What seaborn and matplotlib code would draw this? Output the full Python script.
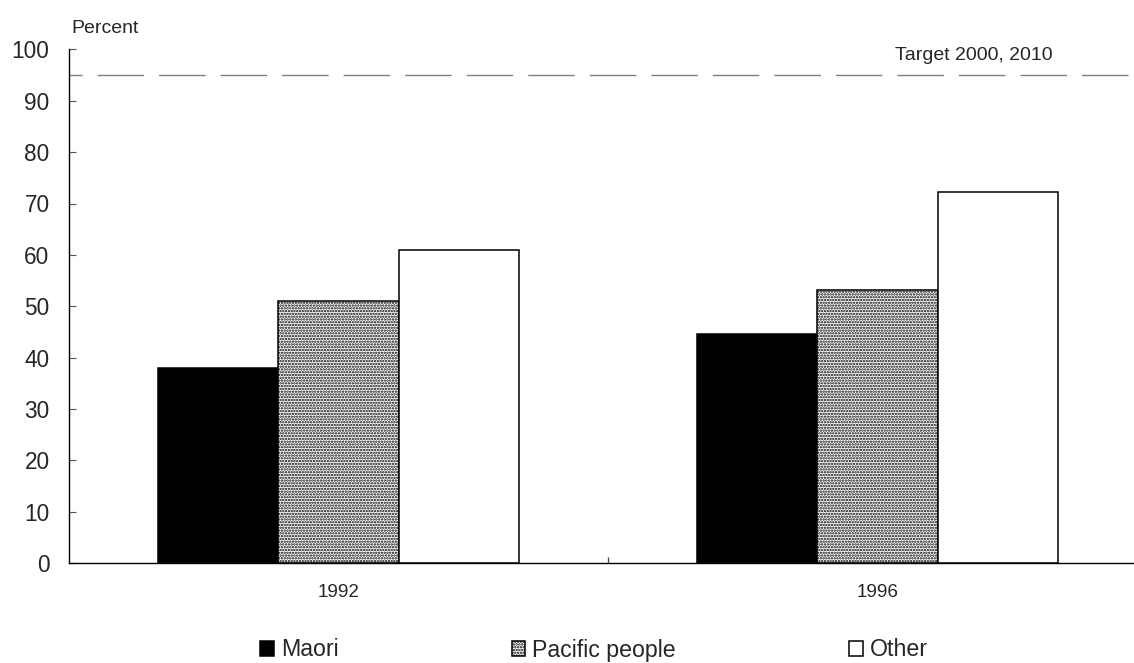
import matplotlib
matplotlib.use("Agg")
import matplotlib.pyplot as plt
import pandas as pd
import seaborn as sns

# Percent by year and group
years = ["1992", "1996"]
groups = ["Maori", "Pacific people", "Other"]
maori = [38.0, 44.6]
pacific = [51.0, 53.2]
other = [61.0, 72.3]
target = 95.0
target_label = "Target 2000, 2010"
y_ticks = list(range(0, 101, 10))

df = pd.DataFrame({
    "year": years * 3,
    "group": [g for g in groups for _ in years],
    "pct": maori + pacific + other,
})

sns.set_style("white")
plt.rcParams["font.family"] = ["Liberation Sans", "DejaVu Sans"]
plt.rcParams["hatch.linewidth"] = 1.15
plt.rcParams["hatch.color"] = "#1a1a1a"

W, H = 1134, 663
fig = plt.figure(figsize=(W / 100, H / 100), dpi=100)
ax = fig.add_axes([69 / W, (H - 563.3) / H, 1078 / W, 514 / H])

sns.barplot(
    data=df, x="year", y="pct", hue="group", order=years, hue_order=groups,
    palette=["black", "white", "white"], width=0.668, gap=0,
    edgecolor="black", linewidth=1.1, saturation=1, legend=False, ax=ax,
)

# dotted fill for the middle series
for bar in ax.containers[1]:
    bar.set_hatch("......")

ax.set_xlim(-0.5, 1.5)
ax.set_ylim(0, 100)
ax.set_xlabel("")
ax.set_ylabel("")
ax.set_yticks(y_ticks)

for side in ("top", "right"):
    ax.spines[side].set_visible(False)
for side in ("left", "bottom"):
    ax.spines[side].set_color("black")
    ax.spines[side].set_linewidth(1.0)

ax.tick_params(axis="y", direction="in", length=5, width=0.8, color="#555555",
               labelsize=16.3, pad=14, left=True)
ax.tick_params(axis="x", which="major", length=0, labelsize=13.6, pad=15)
ax.set_xticks([0.5, 1.5], minor=True)
ax.tick_params(axis="x", which="minor", direction="in", length=4.5, width=0.9,
               color="#444444", bottom=True)

# target reference line
ax.axhline(target, color="#808080", linewidth=1.0,
           linestyle=(24.1, (33.5, 10.8)), zorder=1)
fig.text(1053 / W, 1 - 60 / H, target_label, ha="right", va="baseline",
         fontsize=14)

fig.text(71 / W, 1 - 33 / H, "Percent", ha="left", va="baseline", fontsize=14)

fig.legend(
    handles=list(ax.containers), labels=groups, ncol=3, frameon=False,
    loc="center", bbox_to_anchor=(594 / W, 1 - 650 / H),
    fontsize=16.7, handlelength=0.6, handleheight=0.6, handletextpad=0.3,
    columnspacing=7.45, borderpad=0, borderaxespad=0,
)

fig.savefig("out.png", dpi=100)
